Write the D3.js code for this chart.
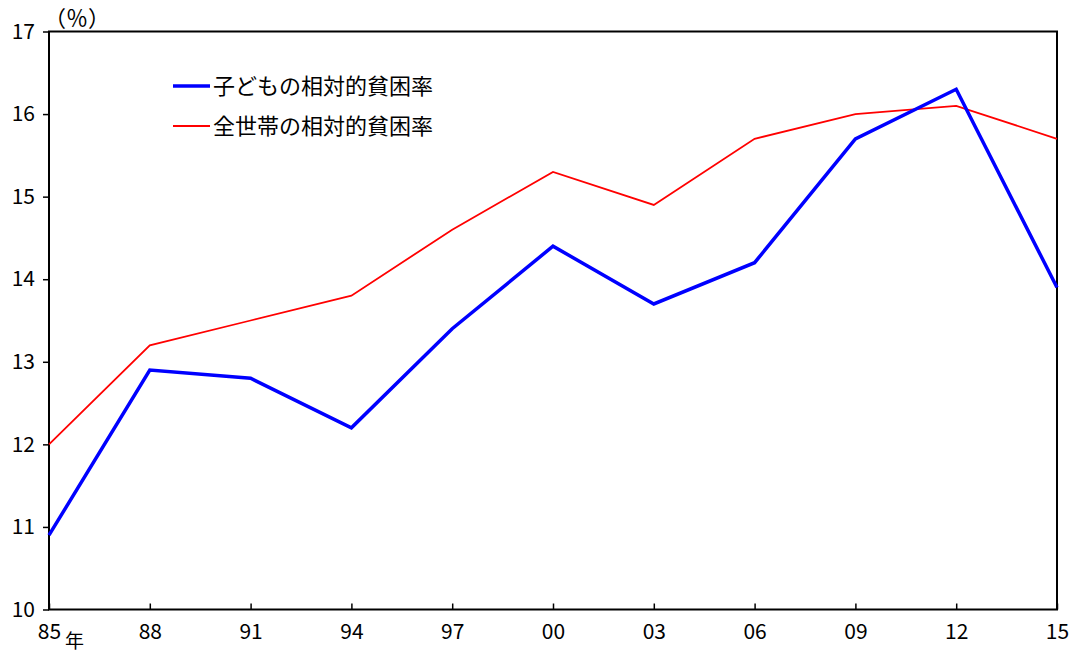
<!DOCTYPE html>
<html>
<head>
<meta charset="utf-8">
<script src="https://cdn.jsdelivr.net/npm/d3@7"></script>
<style>
  body { margin: 0; background: #fff; }
  text { fill: #000; }
</style>
</head>
<body>
<script>
const w = 1072;
const h = 652;

const years = ["85", "88", "91", "94", "97", "00", "03", "06", "09", "12", "15"];
const childRate = [10.9, 12.9, 12.8, 12.2, 13.4, 14.4, 13.7, 14.2, 15.7, 16.3, 13.9];
const allRate = [12.0, 13.2, 13.5, 13.8, 14.6, 15.3, 14.9, 15.7, 16.0, 16.1, 15.7];
const yTicks = [10, 11, 12, 13, 14, 15, 16, 17];
const legendNames = ["子どもの相対的貧困率", "全世帯の相対的貧困率"];

const plotLeft = 49, plotRight = 1057, plotTop = 31.5, plotBottom = 609.5;
const numFont = "'Liberation Sans Narrow', 'Noto Sans CJK JP', sans-serif";
const jpFont = "'Noto Sans CJK JP', sans-serif";

const svg = d3.select("body").append("svg").attr("width", w).attr("height", h);

const x = d3.scalePoint().domain(years).range([plotLeft, plotRight]);
const y = d3.scaleLinear().domain([10, 17]).range([plotBottom, plotTop]);

// frame
svg.append("rect")
  .attr("x", plotLeft).attr("y", plotTop)
  .attr("width", plotRight - plotLeft).attr("height", plotBottom - plotTop)
  .attr("fill", "none").attr("stroke", "#000").attr("stroke-width", 2);

// y axis
const yAxis = d3.axisLeft(y).tickValues(yTicks).tickSize(6).tickPadding(8).tickFormat(d3.format("d"));
const gy = svg.append("g").attr("transform", "translate(" + plotLeft + ",0)").call(yAxis);
gy.select(".domain").remove();
gy.selectAll("line").attr("stroke", "#000").attr("stroke-width", 1.5);
gy.selectAll("text").attr("font-family", numFont).attr("font-size", 21).attr("fill", "#000");

// x axis, ticks pointing inward
const xAxis = d3.axisBottom(x).tickSizeInner(-6).tickSizeOuter(0).tickPadding(15);
const gx = svg.append("g").attr("transform", "translate(0," + plotBottom + ")").call(xAxis);
gx.select(".domain").remove();
gx.selectAll("line").attr("stroke", "#000").attr("stroke-width", 1.5);
gx.selectAll("text").attr("font-family", numFont).attr("font-size", 21).attr("fill", "#000");

svg.append("text")
  .attr("x", x("85") + 16).attr("y", 648)
  .attr("font-family", jpFont).attr("font-size", 19)
  .text("年");

svg.append("text")
  .attr("x", 44).attr("y", 26)
  .attr("font-family", jpFont).attr("font-size", 22)
  .text("（％）");

const line = d3.line().x((d, i) => x(years[i])).y(d => y(d));

svg.append("path").datum(allRate)
  .attr("d", line).attr("fill", "none")
  .attr("stroke", "#ff0000").attr("stroke-width", 1.8);

svg.append("path").datum(childRate)
  .attr("d", line).attr("fill", "none")
  .attr("stroke", "#0000ff").attr("stroke-width", 3.5);

// legend
const legend = svg.append("g");
const legendColors = ["#0000ff", "#ff0000"];
const legendWidths = [3.5, 1.8];
legendNames.forEach(function (name, i) {
  const ly = 86 + i * 40;
  legend.append("line")
    .attr("x1", 173).attr("x2", 210).attr("y1", ly).attr("y2", ly)
    .attr("stroke", legendColors[i]).attr("stroke-width", legendWidths[i]);
  legend.append("text")
    .attr("x", 213).attr("y", ly + 8)
    .attr("font-family", jpFont).attr("font-size", 22)
    .text(name);
});
</script>
</body>
</html>
